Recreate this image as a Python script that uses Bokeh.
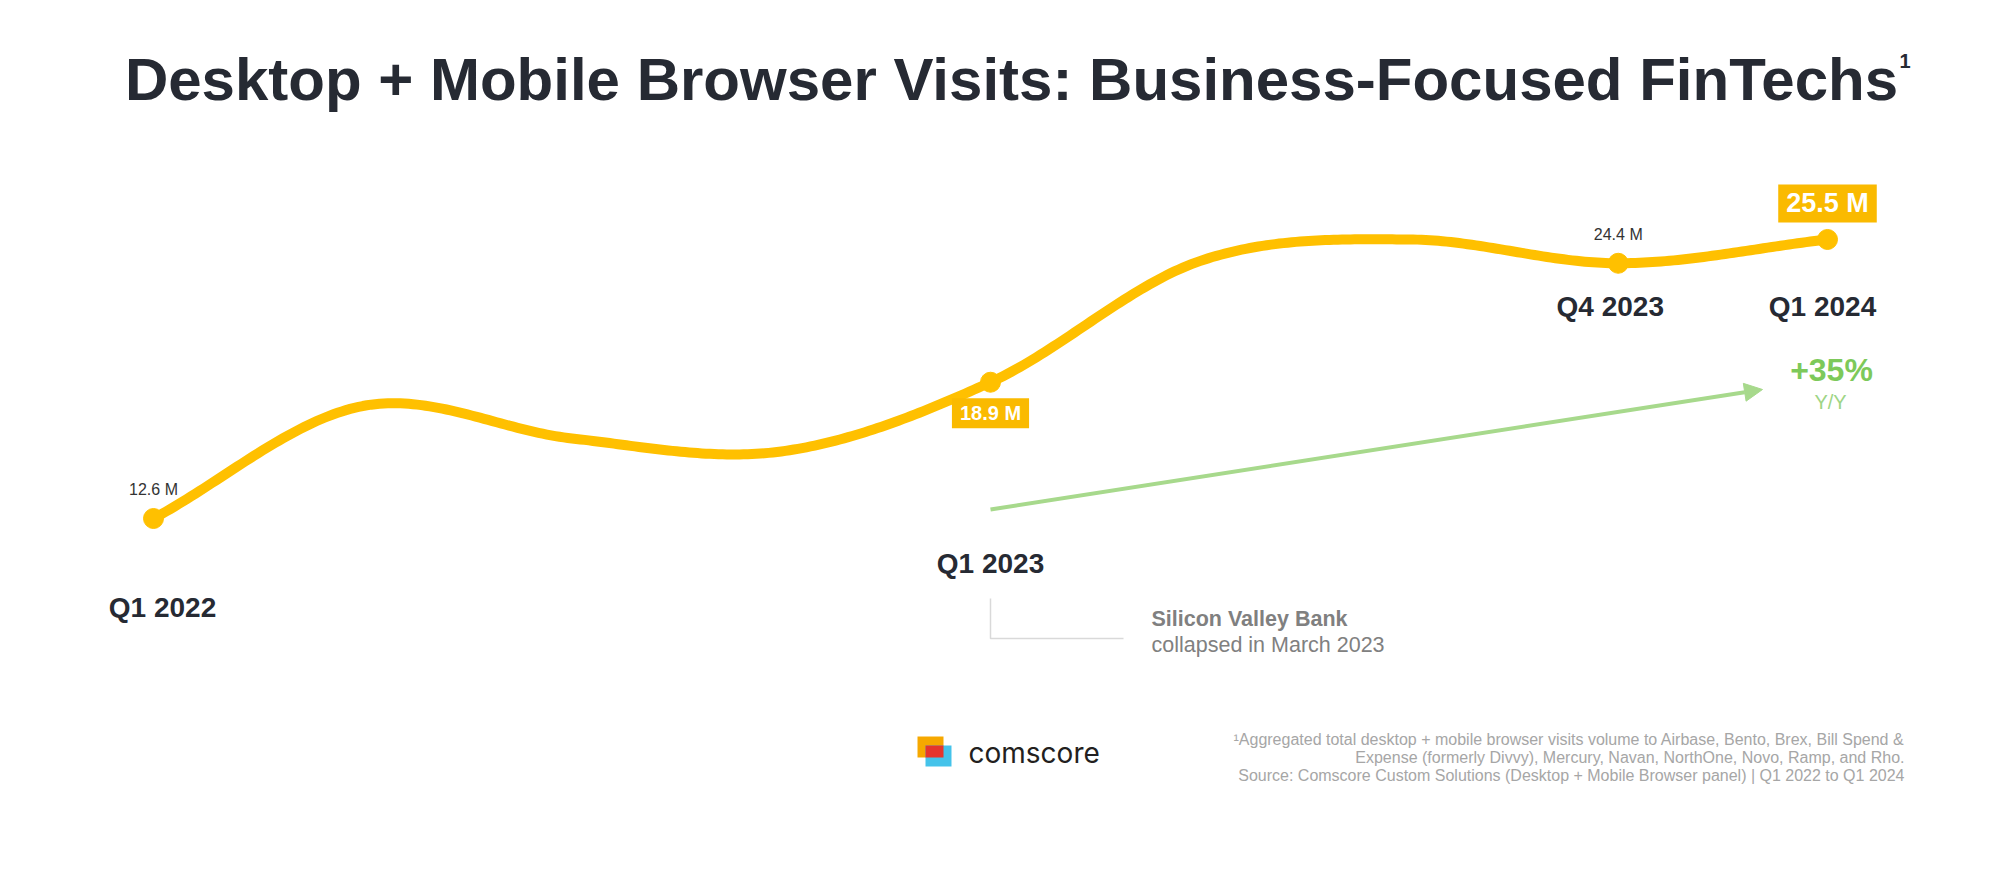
import numpy as np
from bokeh.plotting import figure
from bokeh.models import Label, Range1d, Arrow, NormalHead, ColumnDataSource
from bokeh.embed import file_html
from bokeh.resources import INLINE
from bokeh.core.properties import value

# ---------------- data ----------------
quarters = ["Q1 2022", "Q2 2022", "Q3 2022", "Q4 2022",
            "Q1 2023", "Q2 2023", "Q3 2023", "Q4 2023", "Q1 2024"]
visits_m = [12.6, 17.8, 16.3, 15.7, 18.9, 24.5, 25.5, 24.4, 25.5]
labeled_quarters = ["Q1 2022", "Q1 2023", "Q4 2023", "Q1 2024"]
value_labels = ["12.6 M", "18.9 M", "24.4 M", "25.5 M"]
growth_label = "+35%"
growth_sub = "Y/Y"
title_text = "Desktop + Mobile Browser Visits: Business-Focused FinTechs"
note_lines = [
    "\u00b9Aggregated total desktop + mobile browser visits volume to Airbase, Bento, Brex, Bill Spend &",
    "Expense (formerly Divvy), Mercury, Navan, NorthOne, Novo, Ramp, and Rho.",
    "Source: Comscore Custom Solutions (Desktop + Mobile Browser panel) | Q1 2022 to Q1 2024",
]
svb_title = "Silicon Valley Bank"
svb_sub = "collapsed in March 2023"
brand = "comscore"

# ---------------- layout / style ----------------
W, H = 1984, 865
PX_PER_Q = 209.25      # horizontal pixels per quarter
PX_PER_M = 21.63       # vertical pixels per million visits
X0_PX = 153            # pixel position of first quarter
Y_REF_PX = 518         # pixel (from top) of the first value
xs = -X0_PX / PX_PER_Q
xe = xs + W / PX_PER_Q
ye = visits_m[0] + Y_REF_PX / PX_PER_M
ys = ye - H / PX_PER_M


def px_x(X):
    return xs + X / PX_PER_Q


def px_y(Y):
    return ye - Y / PX_PER_M


GOLD = "#FFC000"
BOX = "#FABA00"
DARK = "#262A33"
FONT = "Liberation Sans"

p = figure(width=W, height=H, x_range=Range1d(xs, xe), y_range=Range1d(ys, ye),
           output_backend="svg", toolbar_location=None, min_border=0,
           x_axis_location=None, y_axis_location=None,
           background_fill_color="white", border_fill_color="white",
           outline_line_color=None)
p.grid.visible = False

# ---------------- smooth curve (Catmull-Rom through data points) ----------------
xi = np.arange(len(visits_m), dtype=float)
yv = np.array(visits_m, dtype=float)
m = np.zeros_like(yv)
m[1:-1] = (yv[2:] - yv[:-2]) / 2.0
m[0] = yv[1] - yv[0]
m[-1] = (yv[-1] - yv[-2])
cx, cy = [], []
for k in range(len(yv) - 1):
    t = np.linspace(0, 1, 50, endpoint=(k == len(yv) - 2))
    h00 = 2 * t**3 - 3 * t**2 + 1
    h10 = t**3 - 2 * t**2 + t
    h01 = -2 * t**3 + 3 * t**2
    h11 = t**3 - t**2
    cy.extend(h00 * yv[k] + h10 * m[k] + h01 * yv[k + 1] + h11 * m[k + 1])
    cx.extend(xi[k] + t)
p.line(cx, cy, line_color=GOLD, line_width=10, line_cap="round", line_join="round")

idx = [quarters.index(q) for q in labeled_quarters]
dot_src = ColumnDataSource(dict(x=idx, y=[visits_m[i] for i in idx]))
p.scatter("x", "y", source=dot_src, size=20, fill_color=GOLD, line_color=GOLD)

# ---------------- quarter labels ----------------
q_rows_px = [607, 563, 306, 306]
q_xoff = [9, 0, -8, -5]
q_src = ColumnDataSource(dict(x=idx, y=[px_y(r) for r in q_rows_px],
                              text=labeled_quarters, xo=q_xoff))
p.text("x", "y", text="text", source=q_src, x_offset="xo",
       text_font=value(FONT), text_font_style="bold", text_font_size="28px",
       text_color=DARK, text_align="center", text_baseline="middle")

# ---------------- value labels ----------------
# (vertical offset in px (up positive), boxed?)
val_style = [(29, False), (-31, True), (29, False), (36, True)]
for (i, lab, (dy, boxed)) in zip(idx, value_labels, val_style):
    if boxed:
        size = "20px" if i == 4 else "27px"
        p.add_layout(Label(x=i, y=visits_m[i] + dy / PX_PER_M, text=lab,
                           text_align="center", text_baseline="middle",
                           text_font=FONT, text_font_style="bold",
                           text_font_size=size, text_color="white",
                           background_fill_color=BOX,
                           padding=dict(left=8, right=8, top=4, bottom=4)))
    else:
        p.add_layout(Label(x=i, y=visits_m[i] + dy / PX_PER_M, text=lab,
                           text_align="center", text_baseline="middle",
                           text_font=FONT, text_font_size="16px",
                           text_color="#333333"))

# ---------------- title ----------------
p.add_layout(Label(x=px_x(1011), y=px_y(79), text=title_text,
                   text_align="center", text_baseline="middle",
                   text_font=FONT, text_font_style="bold",
                   text_font_size="60px", text_color=DARK))
p.add_layout(Label(x=px_x(1899), y=px_y(60), text="1",
                   text_align="left", text_baseline="middle",
                   text_font=FONT, text_font_style="bold",
                   text_font_size="20px", text_color=DARK))

# ---------------- growth arrow ----------------
GREEN_LINE = "#A7D98C"
p.add_layout(Arrow(end=NormalHead(size=18, fill_color=GREEN_LINE, line_color=GREEN_LINE),
                   x_start=px_x(990), y_start=px_y(509),
                   x_end=px_x(1762), y_end=px_y(389),
                   line_color=GREEN_LINE, line_width=4))
p.add_layout(Label(x=px_x(1831), y=px_y(369), text=growth_label,
                   text_align="center", text_baseline="middle",
                   text_font=FONT, text_font_style="bold",
                   text_font_size="32px", text_color="#7DC95A"))
p.add_layout(Label(x=px_x(1830), y=px_y(401), text=growth_sub,
                   text_align="center", text_baseline="middle",
                   text_font=FONT, text_font_size="20px", text_color="#9ED585"))

# ---------------- SVB annotation ----------------
p.line([px_x(990), px_x(990), px_x(1123)], [px_y(598), px_y(638), px_y(638)],
       line_color="#D9D9D9", line_width=1.5)
p.add_layout(Label(x=px_x(1151), y=px_y(618), text=svb_title,
                   text_align="left", text_baseline="middle",
                   text_font=FONT, text_font_style="bold",
                   text_font_size="21.5px", text_color="#808080"))
p.add_layout(Label(x=px_x(1151), y=px_y(644), text=svb_sub,
                   text_align="left", text_baseline="middle",
                   text_font=FONT, text_font_size="21.5px", text_color="#808080"))

# ---------------- footnote ----------------
for line, yy in zip(note_lines, [739, 757, 775]):
    p.add_layout(Label(x=px_x(1904), y=px_y(yy), text=line,
                       text_align="right", text_baseline="middle",
                       text_font=FONT, text_font_size="16px", text_color="#A6A6A6"))

# ---------------- logo ----------------
p.quad(left=[px_x(917)], right=[px_x(943)], top=[px_y(736)], bottom=[px_y(757)],
       fill_color="#F6A800", line_color=None)
p.quad(left=[px_x(925)], right=[px_x(951)], top=[px_y(745)], bottom=[px_y(766)],
       fill_color="#45C3EA", line_color=None)
p.quad(left=[px_x(925)], right=[px_x(943)], top=[px_y(745)], bottom=[px_y(757)],
       fill_color="#E5352D", line_color=None)
p.add_layout(Label(x=px_x(968), y=px_y(752), text=brand,
                   text_align="left", text_baseline="middle",
                   text_font="Inter", text_font_size="28px", text_color="#231F20"))

open("out.html", "w").write(file_html(p, INLINE))
